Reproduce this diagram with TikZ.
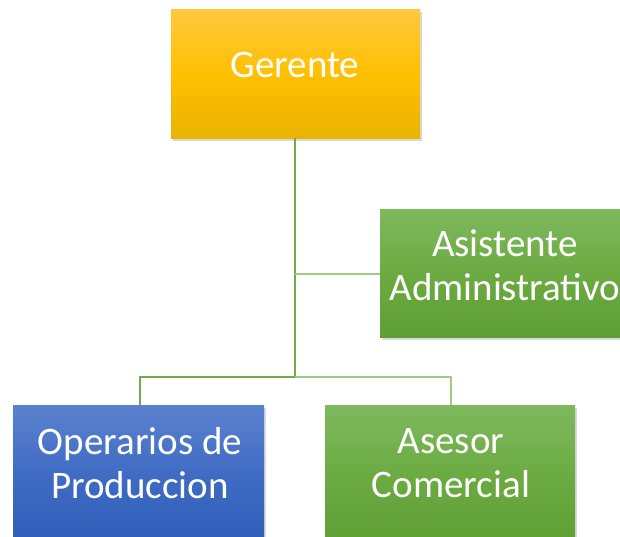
\documentclass[tikz,border=0pt]{standalone}
\usepackage{fontspec}
\setmainfont{Carlito}
\usetikzlibrary{shadows}
\definecolor{ytop}{HTML}{FFC840}
\definecolor{ymid}{HTML}{FFC000}
\definecolor{ybot}{HTML}{E9B300}
\definecolor{gtop}{HTML}{7EB95E}
\definecolor{gmid}{HTML}{6CAB42}
\definecolor{gbot}{HTML}{5E9E33}
\definecolor{btop}{HTML}{5B82CF}
\definecolor{bmid}{HTML}{3F6BC3}
\definecolor{bbot}{HTML}{2E5DB7}
\definecolor{lnA}{HTML}{70AD47}
\definecolor{lnB}{HTML}{9FCB82}
\tikzset{
  box/.style={rectangle, inner sep=0pt, drop shadow={opacity=0.3, shadow xshift=2pt, shadow yshift=-3pt}},
  ybox/.style={box, top color=ytop, bottom color=ybot, middle color=ymid},
  gbox/.style={box, top color=gtop, bottom color=gbot, middle color=gmid},
  bbox/.style={box, top color=btop, bottom color=bbot, middle color=bmid},
  txt/.style={text=white, align=center, font=\fontsize{39}{44}\selectfont, inner sep=0pt},
  conn/.style={line width=2pt, draw=lnA},
  connl/.style={line width=2pt, draw=lnB}
}
\begin{document}
\begin{tikzpicture}[x=1pt,y=-1pt]
\useasboundingbox (0,0) rectangle (620,536);
\clip (0,0) rectangle (620,536);
% connectors
\coordinate (j1) at (295,274);
\coordinate (j2) at (295,377);
\coordinate (jl) at (140,377);
\coordinate (jr) at (451,377);
% boxes
\node[ybox, minimum width=249pt, minimum height=129pt, anchor=north west] (ger) at (171,9) {};
\node[gbox, minimum width=250pt, minimum height=128pt, anchor=north west] (asi) at (380,209) {};
\node[bbox, minimum width=251pt, minimum height=140pt, anchor=north west] (ope) at (13,405) {};
\node[gbox, minimum width=250pt, minimum height=140pt, anchor=north west] (ase) at (325,405) {};
\draw[conn] (ger.south -| j1) -- (j2);
\draw[connl] (j1) -- (j1 -| asi.west);
\draw[conn] (j2) -- (jl) -- (jl |- ope.north);
\draw[connl] (j2) -- (jr) -- (jr |- ase.north);
% texts
\node[txt] (tger) at (295,65) {Gerente};
\node[txt] (tasi) at (505,265) {Asistente\\Administrativo};
\node[txt] (tope) at (140,463) {Operarios de\\Produccion};
\node[txt] (tase) at (451,463) {Asesor\\Comercial};
\end{tikzpicture}
\end{document}
